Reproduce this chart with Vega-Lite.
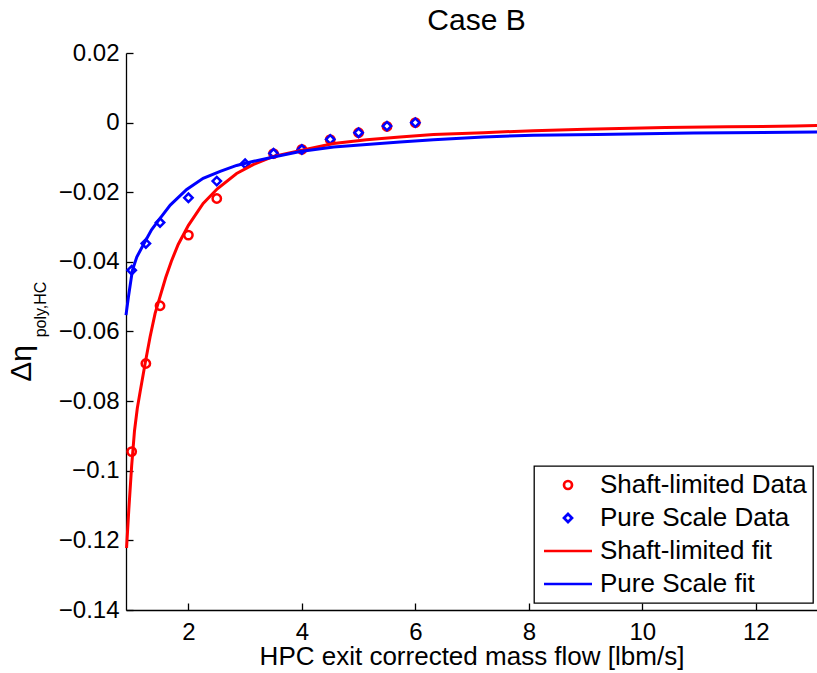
{
  "$schema": "https://vega.github.io/schema/vega-lite/v6.json",
  "width": 691,
  "height": 557,
  "autosize": {"type": "none"},
  "padding": {"left": 126, "top": 53, "right": 0, "bottom": 63},
  "background": "white",
  "title": {"text": "Case B", "fontSize": 30, "font": "Liberation Sans", "fontWeight": "normal", "color": "black", "anchor": "middle", "baseline": "alphabetic", "offset": 19, "dx": 5, "dy": 38},
  "config": {
    "view": {"stroke": null},
    "font": "Liberation Sans",
    "axis": {
      "domainColor": "black", "domainWidth": 1.3, "tickColor": "black", "tickWidth": 1.3, "tickSize": -7,
      "labelColor": "black", "labelFontSize": 24, "labelFont": "Liberation Sans", "labelFlush": false, "labelOverlap": false,
      "titleColor": "black", "titleFont": "Liberation Sans", "titleFontWeight": "normal", "grid": false
    },
    "legend": {
      "orient": "none", "legendX": 408, "legendY": 413,
      "strokeColor": "black", "strokeWidth": 1.3, "fillColor": "white", "padding": 6, "cornerRadius": 0,
      "labelFontSize": 26, "labelFont": "Liberation Sans", "labelColor": "black", "labelLimit": 0,
      "symbolSize": 64, "symbolStrokeWidth": 2.7, "symbolOffset": 15, "labelOffset": 19, "rowPadding": 7
    }
  },
  "datasets": {
    "pts": [
      {"x": 1.0, "y": -0.0945, "series": "Shaft-limited Data"},
      {"x": 1.25, "y": -0.0692, "series": "Shaft-limited Data"},
      {"x": 1.5, "y": -0.0526, "series": "Shaft-limited Data"},
      {"x": 2.0, "y": -0.0323, "series": "Shaft-limited Data"},
      {"x": 2.5, "y": -0.0218, "series": "Shaft-limited Data"},
      {"x": 3.5, "y": -0.0089, "series": "Shaft-limited Data"},
      {"x": 4.0, "y": -0.0077, "series": "Shaft-limited Data"},
      {"x": 4.5, "y": -0.0049, "series": "Shaft-limited Data"},
      {"x": 5.0, "y": -0.0029, "series": "Shaft-limited Data"},
      {"x": 5.5, "y": -0.0011, "series": "Shaft-limited Data"},
      {"x": 6.0, "y": 0.0, "series": "Shaft-limited Data"},
      {"x": 1.0, "y": -0.0424, "series": "Pure Scale Data"},
      {"x": 1.25, "y": -0.0347, "series": "Pure Scale Data"},
      {"x": 1.5, "y": -0.0287, "series": "Pure Scale Data"},
      {"x": 2.0, "y": -0.0216, "series": "Pure Scale Data"},
      {"x": 2.5, "y": -0.0168, "series": "Pure Scale Data"},
      {"x": 3.0, "y": -0.0118, "series": "Pure Scale Data"},
      {"x": 3.5, "y": -0.0088, "series": "Pure Scale Data"},
      {"x": 4.0, "y": -0.0077, "series": "Pure Scale Data"},
      {"x": 4.5, "y": -0.0048, "series": "Pure Scale Data"},
      {"x": 5.0, "y": -0.0029, "series": "Pure Scale Data"},
      {"x": 5.5, "y": -0.0010, "series": "Pure Scale Data"},
      {"x": 6.0, "y": 0.0, "series": "Pure Scale Data"}
    ],
    "fits": [
      {"x": 0.91, "y": -0.1222, "series": "Shaft-limited fit"},
      {"x": 0.95, "y": -0.1110, "series": "Shaft-limited fit"},
      {"x": 1.0, "y": -0.0985, "series": "Shaft-limited fit"},
      {"x": 1.05, "y": -0.0885, "series": "Shaft-limited fit"},
      {"x": 1.1, "y": -0.0820, "series": "Shaft-limited fit"},
      {"x": 1.15, "y": -0.0772, "series": "Shaft-limited fit"},
      {"x": 1.237, "y": -0.0692, "series": "Shaft-limited fit"},
      {"x": 1.325, "y": -0.0615, "series": "Shaft-limited fit"},
      {"x": 1.413, "y": -0.0548, "series": "Shaft-limited fit"},
      {"x": 1.5, "y": -0.0500, "series": "Shaft-limited fit"},
      {"x": 1.6, "y": -0.0445, "series": "Shaft-limited fit"},
      {"x": 1.7, "y": -0.0398, "series": "Shaft-limited fit"},
      {"x": 1.82, "y": -0.0350, "series": "Shaft-limited fit"},
      {"x": 2.0, "y": -0.0295, "series": "Shaft-limited fit"},
      {"x": 2.26, "y": -0.0232, "series": "Shaft-limited fit"},
      {"x": 2.51, "y": -0.0190, "series": "Shaft-limited fit"},
      {"x": 2.85, "y": -0.0146, "series": "Shaft-limited fit"},
      {"x": 3.15, "y": -0.0120, "series": "Shaft-limited fit"},
      {"x": 3.5, "y": -0.0097, "series": "Shaft-limited fit"},
      {"x": 4.0, "y": -0.0079, "series": "Shaft-limited fit"},
      {"x": 4.56, "y": -0.0060, "series": "Shaft-limited fit"},
      {"x": 5.14, "y": -0.0049, "series": "Shaft-limited fit"},
      {"x": 5.73, "y": -0.0041, "series": "Shaft-limited fit"},
      {"x": 6.32, "y": -0.0034, "series": "Shaft-limited fit"},
      {"x": 7.2, "y": -0.0029, "series": "Shaft-limited fit"},
      {"x": 8.08, "y": -0.0023, "series": "Shaft-limited fit"},
      {"x": 9.0, "y": -0.0019, "series": "Shaft-limited fit"},
      {"x": 10.4, "y": -0.0014, "series": "Shaft-limited fit"},
      {"x": 11.5, "y": -0.0012, "series": "Shaft-limited fit"},
      {"x": 12.7, "y": -0.0010, "series": "Shaft-limited fit"},
      {"x": 13.08, "y": -0.0008, "series": "Shaft-limited fit"},
      {"x": 0.9, "y": -0.0553, "series": "Pure Scale fit"},
      {"x": 0.943, "y": -0.0500, "series": "Pure Scale fit"},
      {"x": 1.013, "y": -0.0424, "series": "Pure Scale fit"},
      {"x": 1.09, "y": -0.0386, "series": "Pure Scale fit"},
      {"x": 1.225, "y": -0.0345, "series": "Pure Scale fit"},
      {"x": 1.35, "y": -0.0308, "series": "Pure Scale fit"},
      {"x": 1.49, "y": -0.0277, "series": "Pure Scale fit"},
      {"x": 1.68, "y": -0.0237, "series": "Pure Scale fit"},
      {"x": 1.97, "y": -0.0192, "series": "Pure Scale fit"},
      {"x": 2.26, "y": -0.0160, "series": "Pure Scale fit"},
      {"x": 2.56, "y": -0.0140, "series": "Pure Scale fit"},
      {"x": 2.85, "y": -0.0123, "series": "Pure Scale fit"},
      {"x": 3.15, "y": -0.0111, "series": "Pure Scale fit"},
      {"x": 3.5, "y": -0.0099, "series": "Pure Scale fit"},
      {"x": 3.97, "y": -0.0083, "series": "Pure Scale fit"},
      {"x": 4.56, "y": -0.0070, "series": "Pure Scale fit"},
      {"x": 5.14, "y": -0.0063, "series": "Pure Scale fit"},
      {"x": 5.73, "y": -0.0056, "series": "Pure Scale fit"},
      {"x": 6.32, "y": -0.0049, "series": "Pure Scale fit"},
      {"x": 7.2, "y": -0.0041, "series": "Pure Scale fit"},
      {"x": 8.08, "y": -0.0036, "series": "Pure Scale fit"},
      {"x": 9.2, "y": -0.0034, "series": "Pure Scale fit"},
      {"x": 10.9, "y": -0.0030, "series": "Pure Scale fit"},
      {"x": 13.08, "y": -0.0027, "series": "Pure Scale fit"}
    ]
  },
  "layer": [
    {
      "mark": {"type": "rule", "stroke": "black", "strokeWidth": 3, "strokeDash": [10, 5, 3, 5]},
      "encoding": {
        "y": {"datum": 0, "type": "quantitative", "scale": {"domain": [-0.14, 0.02], "nice": false, "zero": false}, "axis": null}
      }
    },
    {
      "data": {"name": "pts"},
      "mark": {"type": "point", "filled": false, "strokeWidth": 2.5, "size": 70, "opacity": 1},
      "encoding": {
        "x": {"field": "x", "type": "quantitative", "scale": {"domain": [0.9, 13.08], "nice": false, "zero": false},
              "axis": {"values": [2, 4, 6, 8, 10, 12], "format": "d", "labelPadding": 36, "labelBaseline": "alphabetic", "title": "HPC exit corrected mass flow [lbm/s]", "titleFontSize": 26, "titleBaseline": "alphabetic", "titleY": 54}},
        "y": {"field": "y", "type": "quantitative", "scale": {"domain": [-0.14, 0.02], "nice": false, "zero": false},
              "axis": {"orient": "left", "values": [0.02, 0, -0.02, -0.04, -0.06, -0.08, -0.1, -0.12, -0.14], "format": ".2~f", "labelPadding": 14,
                       "title": "Δη", "titleFontSize": 30, "titleAngle": 270, "titleX": -96, "titleY": 310, "titleAlign": "center", "titleBaseline": "alphabetic"}},
        "color": {"field": "series", "type": "nominal",
                  "scale": {"domain": ["Shaft-limited Data", "Pure Scale Data", "Shaft-limited fit", "Pure Scale fit"], "range": ["#ff0000", "#0000ff", "#ff0000", "#0000ff"]},
                  "legend": {"title": null}},
        "shape": {"field": "series", "type": "nominal",
                  "scale": {"domain": ["Shaft-limited Data", "Pure Scale Data", "Shaft-limited fit", "Pure Scale fit"], "range": ["circle", "diamond", "M-6,0H6", "M-6,0H6"]},
                  "legend": {"title": null}}
      }
    },
    {
      "data": {"name": "fits"},
      "mark": {"type": "line", "strokeWidth": 3},
      "encoding": {
        "x": {"field": "x", "type": "quantitative", "scale": {"domain": [0.9, 13.08], "nice": false, "zero": false}},
        "y": {"field": "y", "type": "quantitative", "scale": {"domain": [-0.14, 0.02], "nice": false, "zero": false},
              "axis": {"orient": "left", "labels": false, "ticks": false, "domain": false, "grid": false,
                       "title": "poly,HC", "titleFontSize": 16, "titleAngle": 270, "titleX": -81, "titleY": 256, "titleAlign": "center", "titleBaseline": "alphabetic"}},
        "color": {"field": "series", "type": "nominal",
                  "scale": {"domain": ["Shaft-limited Data", "Pure Scale Data", "Shaft-limited fit", "Pure Scale fit"], "range": ["#ff0000", "#0000ff", "#ff0000", "#0000ff"]},
                  "legend": {"title": null}}
      }
    }
  ],
  "resolve": {"axis": {"y": "independent"}}
}
